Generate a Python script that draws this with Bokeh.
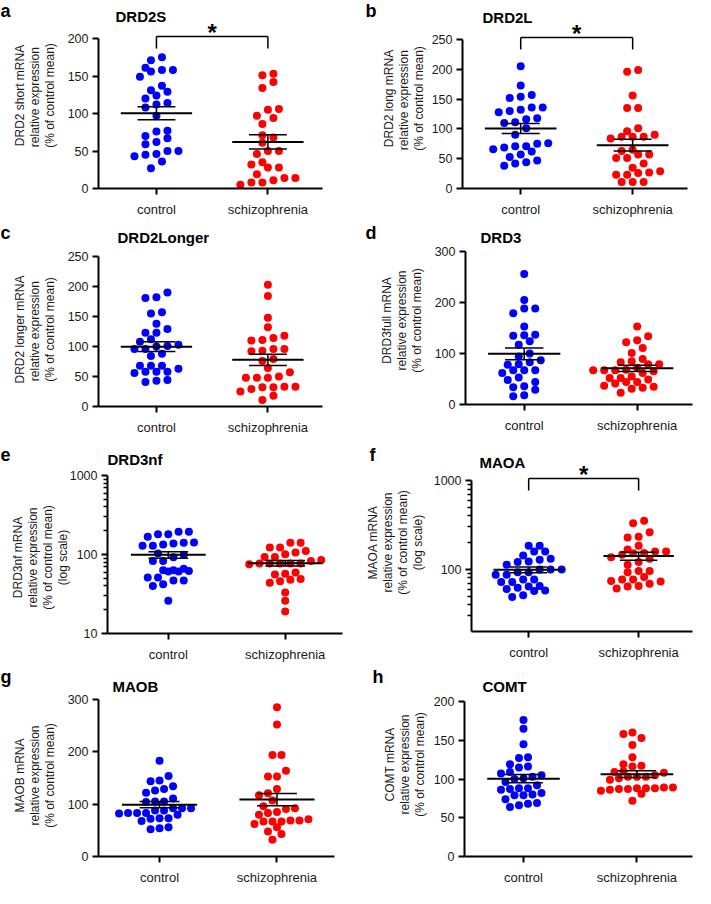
import math
import numpy as np
from bokeh.plotting import figure
from bokeh.models import (Range1d, FixedTicker, Label, PrintfTickFormatter,
                          LinearAxis, LogAxis)
from bokeh.layouts import column, row
from bokeh.embed import file_html
from bokeh.resources import INLINE

# ---------------- data ----------------
groups = ["control", "schizophrenia"]

drd2s_control = [175, 171, 158, 156, 158, 161, 137, 149, 124, 129, 131, 120, 114, 112, 108,
                 97, 77, 76, 70, 67, 59, 62, 50, 45, 43, 46, 50, 36, 27]
drd2s_scz = [153, 151, 142, 134, 106, 105, 97, 94, 86, 71, 68, 61, 50, 46, 50, 35, 28, 28,
             32, 19, 14, 8, 5, 8, 11, 14]
drd2s_ticks = [0, 50, 100, 150, 200]

drd2l_control = [205, 173, 154, 152, 157, 136, 130, 132, 136, 128, 118, 111, 110, 116, 101,
                 90, 75, 71, 66, 62, 69, 71, 76, 53, 44, 38, 42, 47, 57]
drd2l_scz = [199, 196, 156, 135, 135, 101, 96, 87, 84, 87, 87, 90, 63, 57, 57, 65, 51, 51,
             42, 35, 27, 23, 11, 11, 11, 23, 26, 29]
drd2l_ticks = [0, 50, 100, 150, 200, 250]

drd2longer_control = [190, 181, 182, 157, 155, 138, 129, 123, 123, 112, 108, 100, 96, 103, 96,
                      101, 84, 88, 68, 68, 63, 68, 58, 58, 56, 58, 44, 41, 43]
drd2longer_scz = [203, 184, 148, 132, 118, 111, 110, 114, 96, 92, 93, 96, 79, 76, 64, 57, 48,
                  50, 48, 48, 33, 32, 32, 33, 29, 25, 18, 11]
drd2longer_ticks = [0, 50, 100, 150, 200, 250]

drd3_control = [256, 205, 188, 188, 179, 153, 136, 135, 137, 124, 117, 100, 94, 83, 78, 79,
                87, 62, 67, 67, 67, 48, 53, 44, 36, 29, 34, 16, 18]
drd3_scz = [153, 126, 134, 122, 111, 101, 85, 79, 79, 83, 89, 67, 65, 72, 68, 67, 62, 67, 55,
            52, 49, 52, 44, 37, 33, 44, 31, 35, 41, 23]
drd3_ticks = [0, 100, 200, 300]

drd3nf_control = [181, 168, 194, 194, 180, 129, 142, 134, 138, 141, 129, 83, 99, 92, 103, 83,
                  63, 62, 61, 61, 63, 66, 51, 47, 42, 40, 47, 51, 26]
drd3nf_scz = [141, 141, 123, 123, 111, 101, 106, 93, 93, 83, 77, 77, 75, 85, 77, 77, 77, 57,
              49, 46, 44, 48, 56, 59, 33, 26, 19]
drd3nf_ticks = [10, 100, 1000]
drd3nf_minor = [20, 30, 40, 50, 60, 70, 80, 90, 200, 300, 400, 500, 600, 700, 800, 900]

maoa_control = [185, 185, 159, 159, 143, 128, 121, 132, 113, 123, 93, 93, 100, 100, 100, 87,
                87, 77, 72, 72, 77, 64, 60, 57, 49, 51, 58, 62, 65]
maoa_scz = [352, 331, 261, 229, 233, 185, 159, 153, 146, 152, 159, 167, 132, 137, 121, 96,
            113, 93, 96, 82, 77, 73, 69, 61, 65, 74, 77, 64]
maoa_ticks = [100, 1000]
maoa_minor = [30, 40, 50, 60, 70, 80, 90, 200, 300, 400, 500, 600, 700, 800, 900]
maoa_axis_min = 20

maob_control = [183, 154, 144, 145, 129, 134, 122, 126, 111, 105, 104, 105, 92, 88, 83, 82,
                83, 83, 88, 92, 92, 73, 72, 80, 68, 73, 56, 52, 54]
maob_scz = [285, 252, 194, 194, 164, 153, 153, 129, 121, 117, 107, 92, 85, 91, 96, 83, 80,
            69, 69, 67, 62, 67, 67, 71, 56, 48, 43, 32]
maob_ticks = [0, 100, 200, 300]

comt_control = [176, 165, 145, 127, 128, 116, 115, 119, 109, 105, 103, 96, 101, 107, 100, 88,
                88, 82, 79, 79, 80, 86, 87, 92, 74, 68, 64, 66, 69]
comt_scz = [158, 160, 153, 144, 128, 119, 117, 116, 110, 109, 108, 103, 101, 103, 103, 99,
            105, 87, 89, 89, 88, 88, 88, 85, 81, 86, 87, 72]
comt_ticks = [0, 50, 100, 150, 200]

# ---------------- style ----------------
FONT = "Liberation Sans"
COLORS = ["#0000ff", "#ff0000"]
W, H = 347, 222
X0, X1 = -0.52, 1.49
TEXT = "#1a1a1a"


def make_rows(py, rowh=7.0):
    order = sorted(range(len(py)), key=lambda i: py[i])
    rows, cur = [], []
    for i in order:
        if cur and py[i] - py[cur[0]] > rowh:
            rows.append(cur)
            cur = []
        cur.append(i)
    if cur:
        rows.append(cur)
    return rows


def place(py, rows, s, dmin=7.5):
    off = [0.0] * len(py)
    placed = []
    for r in rows:
        m = len(r)
        best, bestd = None, -1.0
        for shift in (0.0, s / 2, -s / 2, s, -s):
            cand = [(k - (m - 1) / 2) * s + shift for k in range(m)]
            ds = [math.hypot(c - off[j], py[i] - py[j]) for i, c in zip(r, cand) for j in placed]
            d = min(ds) if ds else 1e9
            if d >= dmin:
                best = cand
                break
            if d > bestd:
                best, bestd = cand, d
        for i, c in zip(r, best):
            off[i] = c
        placed.extend(r)
    return off


def text_label(x, y, text, size, bold=False, align="left", angle=0.0, color="black", xu="screen"):
    return Label(x=x, y=y, x_units=xu, y_units="screen", text=text, angle=angle,
                 text_font=FONT, text_font_size=size,
                 text_font_style="bold" if bold else "normal",
                 text_align=align, text_baseline="middle", text_color=color)


def make_panel(cfg):
    log = cfg["log"]
    ticks = cfg["ticks"]
    lo = cfg.get("lo", ticks[0])
    top = ticks[-1]
    L, FW, T, B = cfg["L"], cfg["FW"], cfg["T"], cfg["B"]
    R = W - L - FW
    axis_h = B - T
    base = H - B                      # pixels below the x axis
    if log:
        l0, l1 = math.log10(lo), math.log10(top)
        to_px = lambda v: (math.log10(v) - l0) / (l1 - l0) * axis_h
        from_px = lambda q: 10 ** (l0 + q / axis_h * (l1 - l0))
    else:
        to_px = lambda v: (v - lo) / (top - lo) * axis_h
        from_px = lambda q: lo + q / axis_h * (top - lo)
    unit = FW / (X1 - X0)

    p = figure(width=W, height=H, output_backend="svg", toolbar_location=None,
               x_range=Range1d(X0 - L / unit, X1 + R / unit),
               y_range=Range1d(from_px(-base), from_px(axis_h + T)),
               y_axis_type="log" if log else "linear",
               x_axis_location=None, y_axis_location=None, min_border=0)
    p.outline_line_color = None
    p.grid.visible = False
    p.background_fill_color = "white"
    p.border_fill_color = "white"

    # axes drawn at fixed data positions
    yax = (LogAxis if log else LinearAxis)(
        fixed_location=X0, bounds=(lo, top),
        ticker=FixedTicker(ticks=ticks, minor_ticks=cfg.get("minor", [])))
    xax = LinearAxis(fixed_location=lo, bounds=(X0, X1), ticker=FixedTicker(ticks=[0, 1]),
                     major_label_overrides={0: groups[0], 1: groups[1]})
    for ax in (xax, yax):
        ax.axis_line_width = 2
        ax.axis_line_color = "black"
        ax.major_tick_line_width = 2
        ax.major_tick_line_color = "black"
        ax.major_tick_in = 0
        ax.major_tick_out = 6
        ax.minor_tick_in = 0
        ax.major_label_text_font = FONT
        ax.major_label_text_color = TEXT
    yax.minor_tick_out = 4
    yax.minor_tick_line_width = 1.5
    yax.minor_tick_line_color = "black"
    yax.major_label_standoff = 4
    yax.major_label_text_font_size = "12.5px"
    if log:
        yax.formatter = PrintfTickFormatter(format="%d")
    xax.major_label_text_font_size = "13px"
    xax.major_label_standoff = 7
    xax.minor_tick_line_color = None
    p.add_layout(yax, "left")
    p.add_layout(xax, "below")

    # swarm layout
    series = [cfg["ctrl"], cfg["scz"]]
    pys = [[to_px(v) for v in vals] for vals in series]
    rowsets = [make_rows(py) for py in pys]
    maxn = max(len(r) for rs in rowsets for r in rs)
    s = min(11.0, 72.0 / (maxn - 1)) if maxn > 1 else 11.0
    for gi, (vals, py, rs) in enumerate(zip(series, pys, rowsets)):
        off = place(py, rs, s)
        xs = [gi + o / unit for o in off]
        p.scatter(xs, vals, size=8, fill_color=COLORS[gi], line_color=None)
    # mean +/- SEM
    for gi, vals in enumerate(series):
        a = np.array(vals, dtype=float)
        m = a.mean()
        se = a.std(ddof=1) / math.sqrt(len(a))
        p.segment(x0=[gi - 0.32], y0=[m], x1=[gi + 0.32], y1=[m], line_color="black", line_width=2)
        p.segment(x0=[gi, gi - 0.17, gi - 0.17], y0=[m - se, m + se, m - se],
                  x1=[gi, gi + 0.17, gi + 0.17], y1=[m + se, m + se, m - se],
                  line_color="black", line_width=1.5)

    # significance bracket
    if cfg.get("sig"):
        yb = from_px(axis_h + 2)
        yd = from_px(axis_h - 10)
        p.segment(x0=[0, 0, 1], y0=[yb, yd, yd], x1=[1, 0, 1], y1=[yb, yb, yb],
                  line_color="black", line_width=1.5)
        p.add_layout(text_label(0.5, base + axis_h + 6, "*", "24px", bold=True,
                                align="center", xu="data"))

    # gene title and panel letter (screen px from figure bottom-left)
    p.add_layout(text_label(L + cfg["title_dx"], base + cfg["title_cy"], cfg["gene"], "15px", bold=True))
    p.add_layout(text_label(max(0, L + cfg["letter_dx"]), base + cfg["letter_cy"], cfg["letter"],
                            "18px", bold=True))
    # y label lines
    lines = cfg["ylabel"]
    n = len(lines)
    for k, t in enumerate(lines):
        p.add_layout(text_label(L + cfg["lab_dx"] - 15 * (n - 1 - k), base + cfg["lab_cy"], t,
                                "12px", align="center", angle=math.pi / 2, color=TEXT))
    return p


panels = [
    dict(letter="a", gene="DRD2S", ylabel=["DRD2 short mRNA", "relative  expression", "(% of control mean)"],
         ctrl=drd2s_control, scz=drd2s_scz, ticks=drd2s_ticks, log=False, sig=True,
         L=98, FW=224, T=38, B=188, title_dx=17, title_cy=172, letter_dx=-98, letter_cy=178,
         lab_dx=-49, lab_cy=93),
    dict(letter="b", gene="DRD2L", ylabel=["DRD2 long mRNA", "relative  expression", "(% of control mean)"],
         ctrl=drd2l_control, scz=drd2l_scz, ticks=drd2l_ticks, log=False, sig=True,
         L=115, FW=225, T=39, B=188, title_dx=20, title_cy=171, letter_dx=-97, letter_cy=178,
         lab_dx=-44, lab_cy=90),
    dict(letter="c", gene="DRD2Longer", ylabel=["DRD2 longer mRNA", "relative  expression", "(% of control mean)"],
         ctrl=drd2longer_control, scz=drd2longer_scz, ticks=drd2longer_ticks, log=False,
         L=98, FW=224, T=34, B=184, title_dx=19, title_cy=169, letter_dx=-98, letter_cy=174,
         lab_dx=-49, lab_cy=77),
    dict(letter="d", gene="DRD3", ylabel=["DRD3full mRNA", "relative expression", "(% of control mean)"],
         ctrl=drd3_control, scz=drd3_scz, ticks=drd3_ticks, log=False,
         L=118, FW=227, T=29, B=182, title_dx=15, title_cy=167, letter_dx=-100, letter_cy=172,
         lab_dx=-49, lab_cy=84),
    dict(letter="e", gene="DRD3nf", ylabel=["DRD3nf mRNA", "relative expression", "(% of control mean)", "(log scale)"],
         ctrl=drd3nf_control, scz=drd3nf_scz, ticks=drd3nf_ticks, minor=drd3nf_minor, log=True,
         L=107, FW=235, T=31, B=189, title_dx=0, title_cy=174, letter_dx=-107, letter_cy=179,
         lab_dx=-45, lab_cy=76),
    dict(letter="f", gene="MAOA", ylabel=["MAOA mRNA", "relative expression", "(% of control mean)", "(log scale)"],
         ctrl=maoa_control, scz=maoa_scz, ticks=maoa_ticks, minor=maoa_minor, lo=maoa_axis_min,
         log=True, sig=True,
         L=124, FW=221, T=36, B=187, title_dx=8, title_cy=169, letter_dx=-102, letter_cy=177,
         lab_dx=-54, lab_cy=89),
    dict(letter="g", gene="MAOB", ylabel=["MAOB mRNA", "relative expression", "(% of control mean)"],
         ctrl=maob_control, scz=maob_scz, ticks=maob_ticks, log=False,
         L=98, FW=236, T=33, B=190, title_dx=14, title_cy=170, letter_dx=-98, letter_cy=180,
         lab_dx=-49, lab_cy=81),
    dict(letter="h", gene="COMT", ylabel=["COMT mRNA", "relative expression", "(% of control mean)"],
         ctrl=comt_control, scz=comt_scz, ticks=comt_ticks, log=False,
         L=117, FW=228, T=35, B=190, title_dx=18, title_cy=170, letter_dx=-92, letter_cy=180,
         lab_dx=-45, lab_cy=92),
]

figs = [make_panel(c) for c in panels]
layout = column(row(figs[0], figs[1]), row(figs[2], figs[3]),
                row(figs[4], figs[5]), row(figs[6], figs[7]))

open("out.html", "w").write(file_html(layout, INLINE))
